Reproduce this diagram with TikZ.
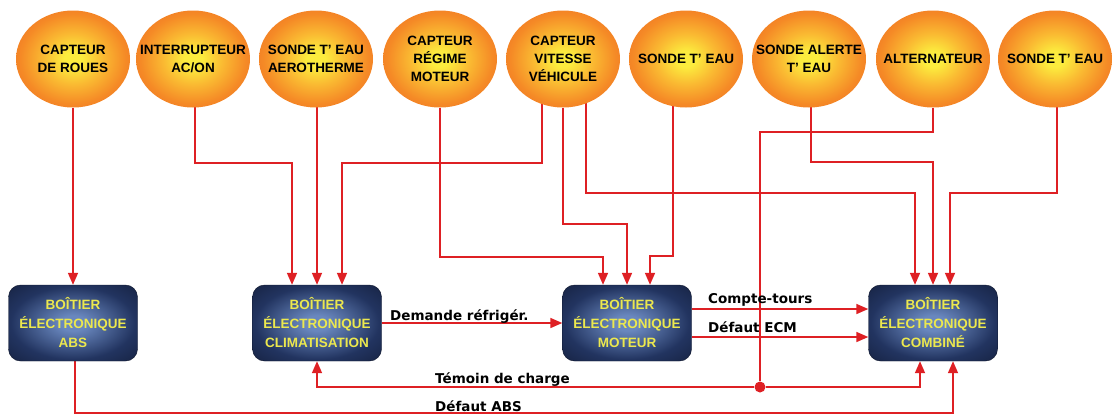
\documentclass[tikz,border=0pt]{standalone}
\usepackage{fontspec}
\setmainfont{Liberation Sans}
\newfontfamily\tagfont{DejaVu Sans}
\usetikzlibrary{arrows.meta,positioning,shapes.geometric,backgrounds}
\definecolor{sunC}{RGB}{252,236,62}
\definecolor{sunL}{RGB}{250,186,50}
\definecolor{sunM}{RGB}{245,138,38}
\definecolor{sunO}{RGB}{236,100,34}
\definecolor{sunR}{RGB}{218,66,36}
\definecolor{navyC}{RGB}{105,135,190}
\definecolor{navyM}{RGB}{34,52,96}
\definecolor{navyO}{RGB}{14,22,45}
\definecolor{wire}{RGB}{222,32,36}
\definecolor{ecutext}{RGB}{236,232,78}
\pgfdeclareradialshading{sun}{\pgfpoint{0bp}{0bp}}{color(0bp)=(sunC); color(4bp)=(sunC);
  color(13bp)=(sunL); color(23bp)=(sunM); color(36bp)=(sunO); color(50bp)=(sunR)}
\pgfdeclareradialshading{ecushade}{\pgfpoint{0bp}{0bp}}{color(0bp)=(navyC); color(5bp)=(navyC);
  color(24bp)=(navyM); color(45bp)=(navyO); color(70bp)=(navyO)}
\tikzset{
  >={Triangle[length=12pt,width=10pt]},
  sensor text/.style={align=center,inner sep=0pt,font=\bfseries\fontsize{13.5}{18}\selectfont},
  sensor/.style={ellipse,shading=sun,minimum width=114pt,minimum height=97pt,inner sep=0pt,
    label={[sensor text]center:#1}},
  ecu/.style={rectangle,rounded corners=12pt,shading=ecushade,draw=navyO,thin,
    minimum width=129pt,minimum height=76pt,align=center,text=ecutext,
    font=\bfseries\fontsize{13.5}{19}\selectfont},
  flow/.style={->,line width=1.7pt,draw=wire},
  junction/.style={circle,fill=wire,minimum size=11pt,inner sep=0pt},
  tag/.style={anchor=base west,inner sep=0pt,font=\tagfont\bfseries\fontsize{13.5}{16}\selectfont},
}

\begin{document}
\begin{tikzpicture}[x=1pt,y=-1pt]
  \useasboundingbox (0,0) rectangle (1112,416);
  % sensors
  \node[sensor={CAPTEUR\\DE ROUES}]             (roues)   at (73,59)   {};
  \node[sensor={INTERRUPTEUR\\AC/ON}]           (interr)  at (193,59)  {};
  \node[sensor={SONDE T’ EAU\\AEROTHERME}]      (aero)    at (316,59)  {};
  \node[sensor={CAPTEUR\\RÉGIME\\MOTEUR}]       (regime)  at (440,59)  {};
  \node[sensor={CAPTEUR\\VITESSE\\VÉHICULE}]    (vitesse) at (563,59)  {};
  \node[sensor={SONDE T’ EAU}]                  (sondeA)  at (686,59)  {};
  \node[sensor={SONDE ALERTE\\T’ EAU}]          (alerte)  at (809,59)  {};
  \node[sensor={ALTERNATEUR}]                   (alter)   at (933,59)  {};
  \node[sensor={SONDE T’ EAU}]                  (sondeB)  at (1055,59) {};
  % boxes
  \node[ecu] (abs)     at (73,323)  {BOÎTIER\\ÉLECTRONIQUE\\ABS};
  \node[ecu] (clim)    at (317,323) {BOÎTIER\\ÉLECTRONIQUE\\CLIMATISATION};
  \node[ecu] (moteur)  at (627,323) {BOÎTIER\\ÉLECTRONIQUE\\MOTEUR};
  \node[ecu] (combine) at (933,323) {BOÎTIER\\ÉLECTRONIQUE\\COMBINÉ};
  \node[junction] (junc) at (760,387) {};
  % labels
  \node[tag] (ldem)   at (390,320) {Demande réfrigér.};
  \node[tag] (lcpt)   at (708,303) {Compte-tours};
  \node[tag] (lecm)   at (708,332) {Défaut ECM};
  \node[tag] (ltem)   at (435,383) {Témoin de charge};
  \node[tag] (labs)   at (435,411) {Défaut ABS};
  % wiring
  \begin{scope}[on background layer]
    \draw[flow] (roues) -- (abs);
    \draw[flow] ([xshift=2pt]interr.center) -- ++(0,104) -| ([xshift=-25pt]clim.north);
    \draw[flow] ([xshift=1pt]aero.center) -- (clim);
    \draw[flow] ([xshift=-21pt]vitesse.center) -- ++(0,104) -| ([xshift=25pt]clim.north);
    \draw[flow] (regime) -- ++(0,198) -| ([xshift=-24pt]moteur.north);
    \draw[flow] (vitesse) -- ++(0,165) -| (moteur.north);
    \draw[flow] ([xshift=-13pt]sondeA.center) -- ++(0,197) -| ([xshift=23pt]moteur.north);
    \draw[flow] ([xshift=23pt]vitesse.center) -- ++(0,134) -| ([xshift=-18pt]combine.north);
    \draw[flow] ([xshift=2pt]alerte.center) -- ++(0,103) -| (combine.north);
    \draw[flow] ([xshift=2pt]sondeB.center) -- ++(0,134) -| ([xshift=17pt]combine.north);
    \draw[flow,-] (alter) -- ++(0,73) -| (junc);
    \draw[flow] (junc) -| (clim.south);
    \draw[flow] (junc) -| ([xshift=-13pt]combine.south);
    \draw[flow] ([xshift=2pt]abs.south) -- ++(0,52) -| ([xshift=20pt]combine.south);
    \draw[flow] (clim) -- (moteur);
    \draw[flow] ([yshift=14pt]moteur.east) -- ([yshift=14pt]combine.west);
    \draw[flow] ([yshift=-14pt]moteur.east) -- ([yshift=-14pt]combine.west);
  \end{scope}
\end{tikzpicture}
\end{document}
